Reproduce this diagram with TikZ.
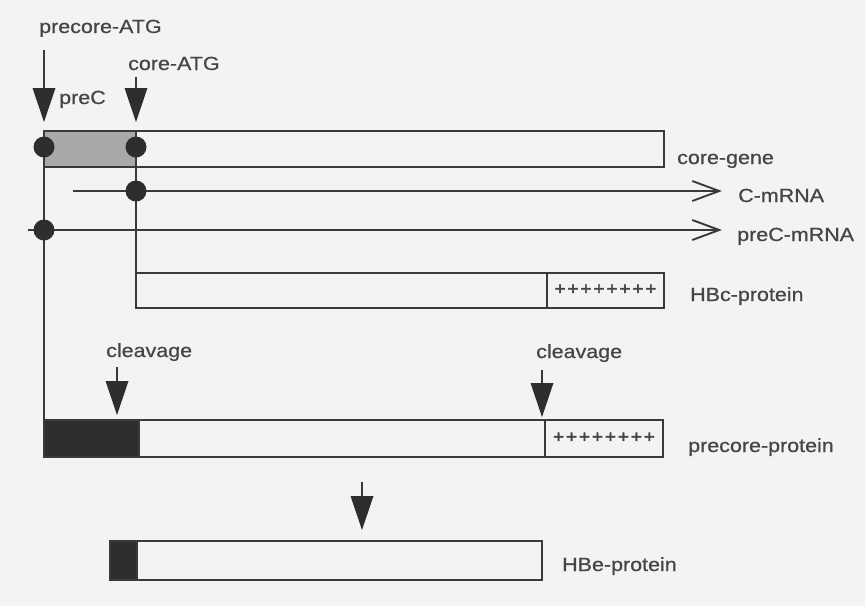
\documentclass[tikz,border=0pt]{standalone}
\usepackage{fontspec}
\setmainfont{Liberation Sans}[FakeStretch=1.13,FakeBold=0.6]
\usetikzlibrary{arrows.meta}
\definecolor{ink}{HTML}{3A3A3A}
\definecolor{txt}{HTML}{454545}
\definecolor{paper}{HTML}{F3F3F1}
\definecolor{shade}{HTML}{A9A9A9}
\definecolor{solid}{HTML}{2E2E2E}
\tikzset{
  box/.style={draw=ink, line width=1.4pt, anchor=north west, inner sep=0pt, outer sep=0pt},
  ln/.style={draw=ink, line width=1.7pt},
  tri/.style={draw=ink, line width=1.7pt, -{Triangle[length=34pt,width=23pt,fill=solid,line width=0pt]}},
  barb/.style={draw=ink, line width=1.7pt, -{Straight Barb[length=27pt,width=20pt,line width=1.9pt]}},
  dot/.style={circle, fill=solid, minimum size=21pt, inner sep=0pt},
  lbl/.style={text=txt, font=\fontsize{19}{22}\selectfont, anchor=base west, inner sep=0pt},
  plus/.style={text=txt, font=\fontsize{17}{20}\selectfont\addfontfeatures{FakeBold=2}, inner sep=0pt}
}
\begin{document}
\begin{tikzpicture}[x=1pt,y=-1pt]
\fill[paper] (0,0) rectangle (865,606);
\useasboundingbox (0,0) rectangle (865,606);

% named points
\coordinate (paS) at (44,50);  \coordinate (paT) at (44,122);
\coordinate (caS) at (136,77); \coordinate (caT) at (136,122);
\coordinate (c1) at (44,147);  \coordinate (c2) at (136,147);
\coordinate (c3) at (136,191); \coordinate (c4) at (44,230);
\coordinate (cmS) at (73,191); \coordinate (cmE) at (722,191);
\coordinate (pmS) at (28,230); \coordinate (pmE) at (722,230);
\coordinate (k1S) at (117,367); \coordinate (k1T) at (117,415);
\coordinate (k2S) at (542,370); \coordinate (k2T) at (542,417);
\coordinate (dS) at (362,482);  \coordinate (dT) at (362,530);

% boxes
\node[box, fill=shade, minimum width=92pt, minimum height=36pt] (preC) at (44,131) {};
\node[box, minimum width=620pt, minimum height=36pt] (gene) at (44,131) {};

\node[box, minimum width=528pt, minimum height=35pt] (hbc) at (136,273) {};
\node[box, minimum width=117pt, minimum height=35pt] (hbcP) at (547,273) {};

\node[box, fill=solid, minimum width=95pt, minimum height=37pt] (ppN) at (44,420) {};
\node[box, minimum width=619pt, minimum height=37pt] (pp) at (44,420) {};
\node[box, minimum width=118pt, minimum height=37pt] (ppP) at (545,420) {};

\node[box, fill=solid, minimum width=27pt, minimum height=39pt] (heN) at (110,541) {};
\node[box, minimum width=432pt, minimum height=39pt] (he) at (110,541) {};

% connectors
\draw[ln] (c1) -- (pp.north west);
\draw[ln] (c2) -- (hbc.north west);
\draw[barb] (cmS) -- (cmE);
\draw[barb] (pmS) -- (pmE);
\draw[tri] (paS) -- (paT);
\draw[tri] (caS) -- (caT);
\draw[tri] (k1S) -- (k1T);
\draw[tri] (k2S) -- (k2T);
\draw[tri] (dS) -- (dT);

% dots
\node[dot] (d1) at (c1) {};
\node[dot] (d2) at (c2) {};
\node[dot] (d3) at (c3) {};
\node[dot] (d4) at (c4) {};

% plus signs
\node[plus] (pl1) at ([yshift=1pt]hbcP.center) {\makebox[102pt][s]{+\hfill+\hfill+\hfill+\hfill+\hfill+\hfill+\hfill+}};
\node[plus] (pl2) at ([yshift=1pt]ppP.center) {\makebox[102pt][s]{+\hfill+\hfill+\hfill+\hfill+\hfill+\hfill+\hfill+}};

% labels
\node[lbl] (t1) at (39,33) {precore-ATG};
\node[lbl] (t2) at (128,70) {core-ATG};
\node[lbl] (t3) at (59,104) {preC};
\node[lbl] (t4) at (677,164) {core-gene};
\node[lbl] (t5) at (738,202) {C-mRNA};
\node[lbl] (t6) at (737,241) {preC-mRNA};
\node[lbl] (t7) at (690,301) {HBc-protein};
\node[lbl] (t8) at (106,357) {cleavage};
\node[lbl] (t9) at (536,358) {cleavage};
\node[lbl] (t10) at (688,452) {precore-protein};
\node[lbl] (t11) at (562,571) {HBe-protein};
\end{tikzpicture}
\end{document}
